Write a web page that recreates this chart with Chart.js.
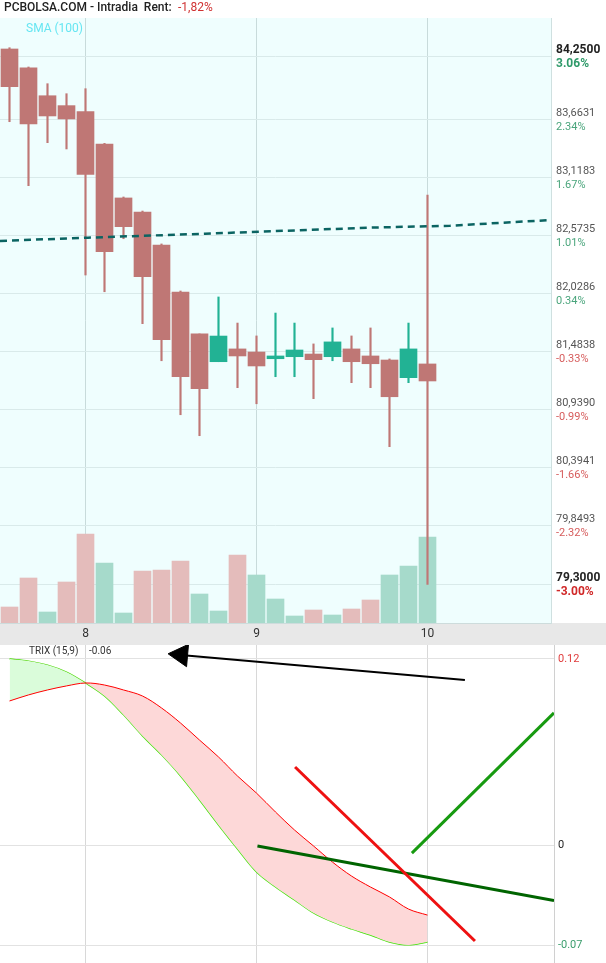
<!DOCTYPE html>
<html>
<head>
<meta charset="utf-8">
<script src="https://cdn.jsdelivr.net/npm/chart.js@4.4.1/dist/chart.umd.min.js"></script>
<style>
  body { margin: 0; background: #fff; }
  canvas { display: block; }
</style>
</head>
<body>
<canvas id="precio" width="606" height="645"></canvas>
<canvas id="trix" width="606" height="318"></canvas>
<script>
// velas intradia, una por tramo (posicion 0..22 en el eje)
var aperturas = [84.325, 84.149, 83.886, 83.793, 83.736, 83.433, 82.926, 82.794, 82.484, 82.043, 81.649, 81.388,
                 81.508, 81.479, 81.416, 81.435, 81.460, 81.435, 81.508, 81.442, 81.404, 81.238, 81.367];
var maximos   = [84.337, 84.156, 83.999, 83.905, 83.952, 83.439, 82.935, 82.803, 82.494, 82.052, 81.649, 81.996,
                 81.751, 81.630, 81.845, 81.751, 81.555, 81.705, 81.630, 81.705, 81.414, 81.751, 82.954];
var minimos   = [83.642, 83.041, 83.445, 83.386, 82.202, 82.045, 82.543, 81.745, 81.397, 80.890, 80.693, 81.388,
                 81.144, 80.993, 81.247, 81.247, 81.041, 81.397, 81.191, 81.144, 80.590, 81.191, 79.297];
var cierres   = [83.971, 83.621, 83.696, 83.668, 83.148, 82.421, 82.656, 82.186, 81.595, 81.247, 81.134, 81.629,
                 81.442, 81.348, 81.442, 81.498, 81.407, 81.574, 81.388, 81.369, 81.059, 81.508, 81.207];
var volumenes = [16, 45, 11, 41, 89, 60, 10, 52, 53, 62, 29, 12, 68, 48, 24, 7, 13, 8, 14, 23, 48, 57, 86];
var volAlcista = [0, 0, 1, 0, 0, 1, 1, 0, 0, 0, 1, 1, 0, 1, 1, 1, 0, 1, 0, 0, 1, 1, 1];

// media movil 100
var smaX = [-0.5, 4.13, 10.29, 18.97, 23.18, 28.5];
var smaY = [82.522, 82.553, 82.590, 82.647, 82.665, 82.719];

var diasIdx = [4, 13, 22];
var diasTxt = ['8', '9', '10'];
var preciosEje = [84.25, 83.6631, 83.1183, 82.5735, 82.0286, 81.4838, 80.9390, 80.3941, 79.8493, 79.30];
var rentEje = [3.06, 2.34, 1.67, 1.01, 0.34, -0.33, -0.99, -1.66, -2.32, -3.00];

// TRIX (15,9)
var trixVals  = [0.0929, 0.0968, 0.1000, 0.1026, 0.1045, 0.1032, 0.1000, 0.0961, 0.0884, 0.0787, 0.0677, 0.0568,
                 0.0445, 0.0335, 0.0213, 0.0097, -0.0006, -0.0110, -0.0200, -0.0271, -0.0335, -0.0413, -0.0452];
var senalVals = [0.1200, 0.1187, 0.1161, 0.1116, 0.1045, 0.0961, 0.0839, 0.0703, 0.0581, 0.0445, 0.0290, 0.0129,
                 -0.0026, -0.0174, -0.0271, -0.0355, -0.0439, -0.0497, -0.0542, -0.0581, -0.0626, -0.0645, -0.0626];
var trixEje = [0.12, 0, -0.0645];
var trixEjeTxt = ['0.12', '0', '-0.07'];
var trixEjeColor = ['#e03c3c', '#222222', '#3a9d6c'];

// lineas dibujadas a mano sobre el TRIX
var flechaX = [23.97, 8.71];
var flechaY = [0.1065, 0.1229];
var rojaX = [15.03, 24.5];
var rojaY = [0.0503, -0.0619];
var verdeOscX = [13.05, 28.66];
var verdeOscY = [-0.0006, -0.0358];
var verdeX = [21.18, 28.66];
var verdeY = [-0.0052, 0.0852];

Chart.defaults.font.family = 'Roboto';

var ROJO = '#bf7775', VERDE = '#22b294';
var colorVela = cierres.map(function(c, i) { return c >= aperturas[i] ? VERDE : ROJO; });
var colorVol = volAlcista.map(function(v) { return v ? '#a6dacb' : '#e4bcbb'; });

var cuerpos = aperturas.map(function(o, i) { return {x: i, y: [o, cierres[i]]}; });
var mechas = minimos.map(function(l, i) { return {x: i, y: [l, maximos[i]]}; });
var vols = volumenes.map(function(v, i) { return {x: i, y: v}; });
var smaPts = smaX.map(function(x, i) { return {x: x, y: smaY[i]}; });

function pares(xs, ys) { return xs.map(function(x, i) { return {x: x, y: ys[i]}; }); }

var decoPrecio = {
  id: 'decoPrecio',
  beforeDraw: function(chart) {
    var c = chart.ctx, a = chart.chartArea;
    c.save();
    c.fillStyle = '#effefe';
    c.fillRect(a.left, a.top, a.right - a.left, a.bottom - a.top);
    c.fillStyle = '#e8e8e8';
    c.fillRect(0, a.bottom, chart.width, chart.height - a.bottom);
    c.restore();
  },
  afterDraw: function(chart) {
    var c = chart.ctx, y = chart.scales.y, x0 = chart.chartArea.right + 5;
    c.save();
    c.textBaseline = 'middle';
    c.textAlign = 'left';
    preciosEje.forEach(function(p, i) {
      var py = y.getPixelForValue(p);
      var extremo = i === 0 || i === preciosEje.length - 1;
      c.font = (extremo ? 'bold 12px' : '11px') + ' Roboto';
      c.fillStyle = extremo ? '#222' : '#555';
      c.fillText(p.toFixed(4).replace('.', ','), x0, py - 6.5);
      var r = rentEje[i];
      if (r >= 0) c.fillStyle = extremo ? '#2f9a6a' : '#4aa57c';
      else c.fillStyle = extremo ? '#d02828' : '#d65c5c';
      c.fillText(r.toFixed(2) + '%', x0, py + 7.5);
    });
    c.font = '500 12px Roboto';
    c.fillStyle = '#222';
    c.fillText('PCBOLSA.COM - Intradia  Rent:', 4, 8);
    c.fillStyle = '#d03232';
    c.font = '12px Roboto';
    c.fillText('-1,82%', 178, 8);
    c.font = '12px Roboto';
    c.fillStyle = '#66e6f2';
    c.fillText('SMA (100)', 26, 29);
    c.restore();
  }
};

new Chart(document.getElementById('precio'), {
  type: 'bar',
  data: {
    datasets: [
      {type: 'line', data: smaPts, yAxisID: 'y', borderColor: '#0b6462', borderWidth: 2.5,
       borderDash: [7, 5], pointRadius: 0, tension: 0, order: 0},
      {data: cuerpos, yAxisID: 'y', backgroundColor: colorVela, barThickness: 17, grouped: false, order: 1},
      {data: mechas, yAxisID: 'y', backgroundColor: colorVela, barThickness: 1.5, grouped: false, order: 2},
      {data: vols, yAxisID: 'yv', backgroundColor: colorVol, barThickness: 17, grouped: false, order: 3}
    ]
  },
  options: {
    responsive: false,
    animation: false,
    events: [],
    layout: {autoPadding: false, padding: {top: 18, left: 0, right: 0, bottom: 0}},
    plugins: {legend: {display: false}, tooltip: {enabled: false}},
    scales: {
      x: {
        type: 'linear', min: -0.5, max: 28.5, offset: false,
        grid: {color: '#c8dbdb', drawTicks: false, offset: false},
        border: {color: '#cddcdc'},
        afterBuildTicks: function(s) { s.ticks = diasIdx.map(function(v) { return {value: v}; }); },
        ticks: {
          autoSkip: false, maxRotation: 0, padding: 4, color: '#333', font: {size: 12},
          callback: function(v) { return diasTxt[diasIdx.indexOf(v)]; }
        },
        afterFit: function(s) { s.height = 22; s.paddingLeft = 0; s.paddingRight = 0; }
      },
      y: {
        position: 'right', min: 78.934, max: 84.616,
        grid: {color: '#d9eaea', drawTicks: false},
        border: {color: '#cfe0e0'},
        afterBuildTicks: function(s) { s.ticks = preciosEje.map(function(v) { return {value: v}; }); },
        ticks: {display: false},
        afterFit: function(s) { s.width = 55; s.paddingTop = 0; s.paddingBottom = 0; }
      },
      yv: {display: false, min: 0, max: 605}
    }
  },
  plugins: [decoPrecio]
});

var decoTrix = {
  id: 'decoTrix',
  afterDraw: function(chart) {
    var c = chart.ctx;
    c.save();
    c.textBaseline = 'middle';
    c.font = '10px Roboto';
    c.fillStyle = '#333';
    c.fillText('TRIX (15,9)', 29, 6);
    c.fillText('-0.06', 89, 6);
    c.restore();
  }
};

new Chart(document.getElementById('trix'), {
  type: 'line',
  data: {
    datasets: [
      {data: pares(trixVals.map(function(v, i) { return i; }), trixVals), borderColor: '#ff0000', borderWidth: 1,
       pointRadius: 0, tension: 0.35, fill: {target: 1, above: '#fdd8d8', below: '#dafcda'}, order: 10},
      {data: pares(senalVals.map(function(v, i) { return i; }), senalVals), borderColor: '#44dd00', borderWidth: 1.2,
       pointRadius: 0, tension: 0.35, fill: false, order: 11},
      {data: pares(flechaX, flechaY), borderColor: '#000', borderWidth: 2, pointRadius: 0, fill: false, order: 1},
      {data: [{x: 9.03, y: 0.1226}], showLine: false, pointStyle: 'triangle', rotation: 275, pointRadius: 13,
       backgroundColor: '#000', borderColor: '#000', order: 1},
      {data: pares(rojaX, rojaY), borderColor: '#ee1111', borderWidth: 3, pointRadius: 0, fill: false, order: 0},
      {data: pares(verdeOscX, verdeOscY), borderColor: '#006400', borderWidth: 3, pointRadius: 0, fill: false, order: 1},
      {data: pares(verdeX, verdeY), borderColor: '#179a10', borderWidth: 3, pointRadius: 0, fill: false, order: 1}
    ]
  },
  options: {
    responsive: false,
    animation: false,
    events: [],
    layout: {autoPadding: false, padding: 0},
    plugins: {legend: {display: false}, tooltip: {enabled: false}},
    scales: {
      x: {
        type: 'linear', min: -0.5, max: 28.66,
        grid: {color: '#d8d8d8', drawTicks: false},
        border: {display: false},
        afterBuildTicks: function(s) { s.ticks = diasIdx.map(function(v) { return {value: v}; }); },
        ticks: {display: false},
        afterFit: function(s) { s.height = 0; s.paddingLeft = 0; s.paddingRight = 0; }
      },
      y: {
        position: 'right', min: -0.0761, max: 0.129,
        grid: {color: '#e2e2e2', drawTicks: false},
        border: {color: '#d0d0d0'},
        afterBuildTicks: function(s) { s.ticks = trixEje.map(function(v) { return {value: v}; }); },
        ticks: {
          padding: 4, font: {size: 11},
          color: function(ctx) { return trixEjeColor[ctx.index]; },
          callback: function(v, i) { return trixEjeTxt[i]; }
        },
        afterFit: function(s) { s.width = 52; s.paddingTop = 0; s.paddingBottom = 0; }
      }
    }
  },
  plugins: [decoTrix]
});
</script>
</body>
</html>
